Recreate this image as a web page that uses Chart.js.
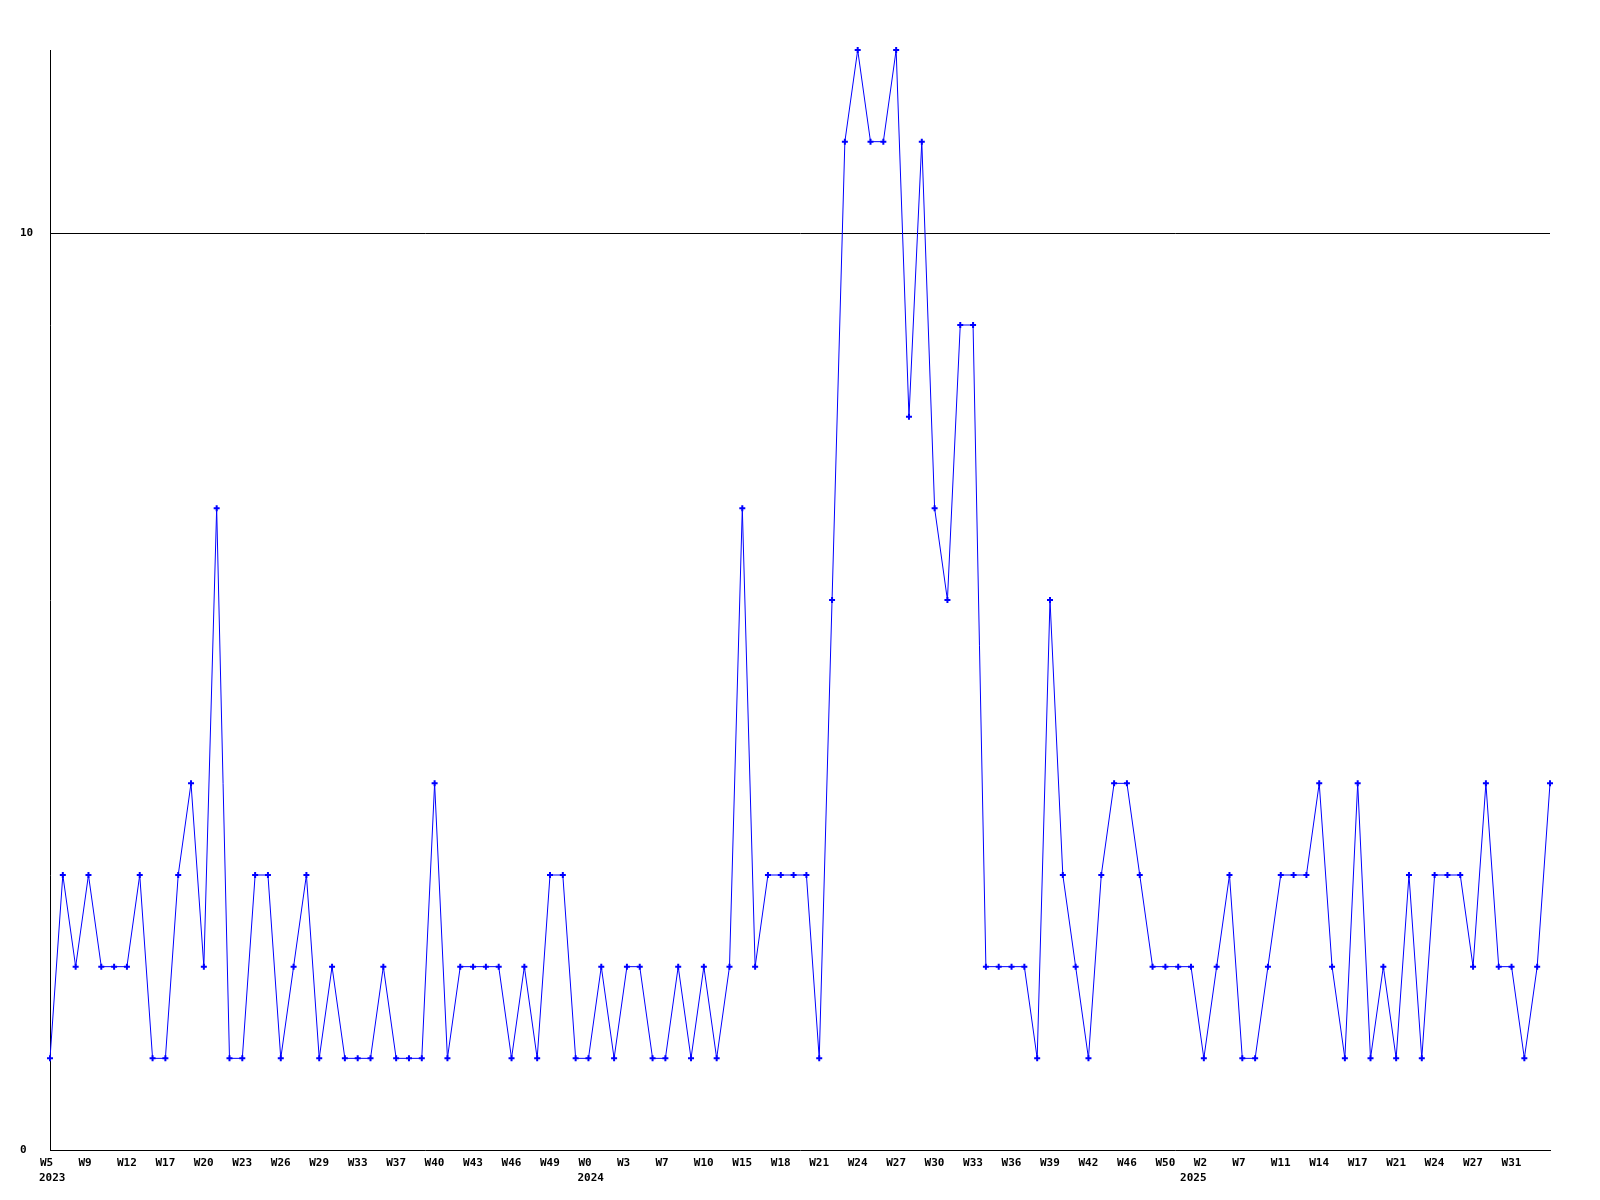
<!DOCTYPE html>
<html>
<head>
<meta charset="utf-8">
<script src="https://cdn.jsdelivr.net/npm/chart.js@4"></script>
<style>
  html, body { margin: 0; padding: 0; background: #ffffff; }
  #wrap { width: 1600px; height: 1200px; }
</style>
</head>
<body>
<div id="wrap"><canvas id="c" width="1600" height="1200"></canvas></div>
<script>
// Series values, one per period
const values = [
  1,3,2,3,2,2,2,3,1,1,
  3,4,2,7,1,1,3,3,1,2,
  3,1,2,1,1,1,2,1,1,1,
  4,1,2,2,2,2,1,2,1,3,
  3,1,1,2,1,2,2,1,1,2,
  1,2,1,2,7,2,3,3,3,3,
  1,6,11,12,11,11,12,8,11,7,
  6,9,9,2,2,2,2,1,6,3,
  2,1,3,4,4,3,2,2,2,2,
  1,2,3,1,1,2,3,3,3,4,
  2,1,4,1,2,1,3,1,3,3,
  3,2,4,2,2,1,2,4
];

// Week tick labels (one every third period)
const weekLabels = [
  'W5','W9','W12','W17','W20','W23','W26','W29','W33','W37','W40','W43','W46',
  'W49','W0','W3','W7','W10','W15','W18','W21','W24','W27','W30','W33','W36','W39',
  'W42','W46','W50','W2','W7','W11','W14','W17','W21','W24','W27','W31'
];
const weekStep = 3;

// Year labels and the period index where each year starts
const yearLabels = ['2023', '2024', '2025'];
const yearStartIndex = [0, 42, 89];

// Y-axis tick values
const yTicks = [0, 10];
const yMax = 12;

const points = values.map((v, i) => ({ x: i, y: v }));
const lastIndex = values.length - 1;

const tickFont = { family: 'DejaVu Sans Mono', size: 11, weight: 'bold' };

new Chart(document.getElementById('c'), {
  type: 'line',
  data: {
    datasets: [{
      data: points,
      borderColor: '#0000ff',
      backgroundColor: '#0000ff',
      borderWidth: 1,
      tension: 0,
      pointStyle: 'cross',
      pointRadius: 3,
      pointBorderWidth: 2,
      pointBorderColor: '#0000ff',
      pointHoverRadius: 3,
      clip: false,
      xAxisID: 'x',
      yAxisID: 'y'
    }]
  },
  options: {
    responsive: false,
    animation: false,
    devicePixelRatio: 1,
    layout: { padding: { left: 20, top: 50, right: 50, bottom: 10 } },
    plugins: { legend: { display: false }, tooltip: { enabled: false } },
    scales: {
      x: {
        type: 'linear',
        position: 'bottom',
        weight: 0,
        min: 0,
        max: lastIndex,
        offset: false,
        grid: { display: false, drawTicks: false },
        border: { display: true, color: '#000000', width: 1 },
        afterBuildTicks: (axis) => {
          axis.ticks = weekLabels.map((_, i) => ({ value: i * weekStep }));
        },
        afterFit: (axis) => { axis.height = 16; },
        ticks: {
          autoSkip: false,
          maxRotation: 0,
          minRotation: 0,
          align: 'start',
          labelOffset: -10,
          padding: 7,
          color: '#000000',
          font: tickFont,
          callback: (value, index) => weekLabels[index]
        }
      },
      xYear: {
        type: 'linear',
        position: 'bottom',
        weight: 1,
        min: 0,
        max: lastIndex,
        offset: false,
        grid: { display: false, drawTicks: false },
        border: { display: false },
        afterBuildTicks: (axis) => {
          axis.ticks = yearStartIndex.map(v => ({ value: v }));
        },
        afterFit: (axis) => { axis.height = 24; },
        ticks: {
          autoSkip: false,
          maxRotation: 0,
          minRotation: 0,
          align: 'start',
          labelOffset: -11,
          padding: 6,
          color: '#000000',
          font: tickFont,
          callback: (value, index) => yearLabels[index]
        }
      },
      y: {
        type: 'linear',
        position: 'left',
        min: 0,
        max: yMax,
        afterBuildTicks: (axis) => {
          axis.ticks = yTicks.map(v => ({ value: v }));
        },
        afterFit: (axis) => { axis.width = 30; },
        grid: {
          drawTicks: false,
          color: (ctx) => (ctx.tick && ctx.tick.value === 10) ? '#000000' : 'rgba(0,0,0,0)',
          lineWidth: 1
        },
        border: { display: true, color: '#000000', width: 1 },
        ticks: {
          crossAlign: 'far',
          padding: 0,
          color: '#000000',
          font: tickFont,
          callback: (value) => String(value)
        }
      }
    }
  }
});
</script>
</body>
</html>
